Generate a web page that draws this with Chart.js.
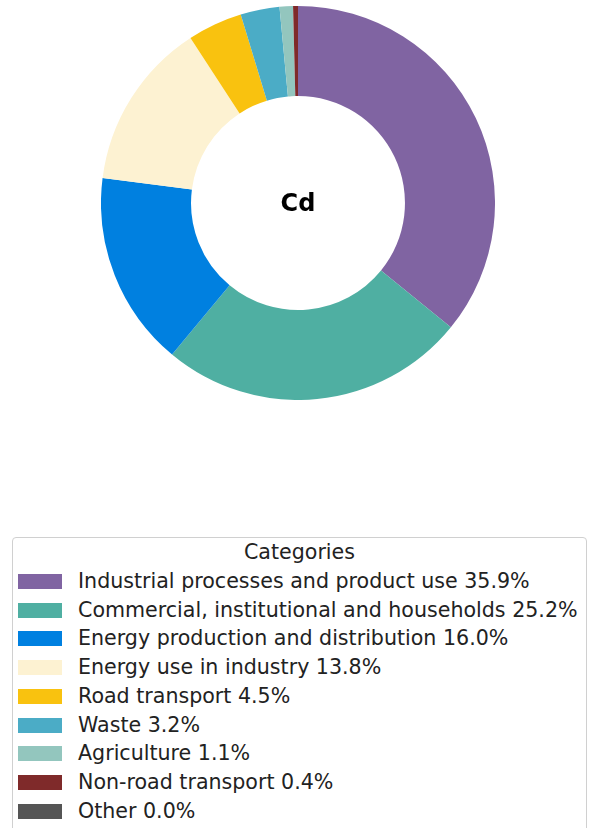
<!DOCTYPE html>
<html>
<head>
<meta charset="utf-8">
<script src="https://cdn.jsdelivr.net/npm/chart.js@4"></script>
<style>
	body { margin: 0; background: #fff; font-family: "DejaVu Sans", sans-serif; }
	#wrap { position: relative; width: 589px; height: 828px; overflow: hidden; }
	#donut { position: absolute; left: 101px; top: 6px; }
	#legende {
		position: absolute; left: 12px; top: 537px; width: 573px; height: 320px;
		border: 1px solid #d0d0d0; border-radius: 4px; color: #222; font-size: 20.6px;
	}
	.zeile { height: 28.75px; line-height: 28.75px; white-space: nowrap; position: relative; }
	.titel { text-align: center; }
	.kasten { position: absolute; left: 5px; top: 7px; width: 44px; height: 15px; }
	.text { position: absolute; left: 65px; top: 0; }
</style>
</head>
<body>
<div id="wrap">
	<canvas id="donut" width="394" height="394"></canvas>
	<div id="legende"></div>
</div>
<script>
// Daten
const categories = [
	"Industrial processes and product use",
	"Commercial, institutional and households",
	"Energy production and distribution",
	"Energy use in industry",
	"Road transport",
	"Waste",
	"Agriculture",
	"Non-road transport",
	"Other"
];
const shares = [35.9, 25.2, 16.0, 13.8, 4.5, 3.2, 1.1, 0.4, 0.0];
const colors = ["#8064a2", "#4fafa2", "#0080e0", "#fdf2d2", "#f9c20f", "#4bacc6", "#93c6be", "#7f2a2a", "#555555"];
const centerLabel = "Cd";
const legendTitle = "Categories";

// Text in der Mitte
const mitteText = {
	id: "mitteText",
	afterDraw(chart) {
		const arc = chart.getDatasetMeta(0).data[0];
		const ctx = chart.ctx;
		ctx.save();
		ctx.font = "bold 24px 'DejaVu Sans'";
		ctx.fillStyle = "#000";
		ctx.textAlign = "center";
		ctx.textBaseline = "middle";
		ctx.fillText(centerLabel, arc.x, arc.y + 2);
		ctx.restore();
	}
};

new Chart(document.getElementById("donut"), {
	type: "doughnut",
	data: {
		labels: categories,
		datasets: [{
			data: shares,
			backgroundColor: colors,
			borderWidth: 0
		}]
	},
	options: {
		responsive: false,
		animation: false,
		devicePixelRatio: 1,
		cutout: "54.3%",
		layout: { padding: 0 },
		plugins: {
			legend: { display: false },
			tooltip: { enabled: false }
		}
	},
	plugins: [mitteText]
});

// Legende
const legende = document.getElementById("legende");
const titel = document.createElement("div");
titel.className = "zeile titel";
titel.textContent = legendTitle;
legende.appendChild(titel);

categories.forEach((name, i) => {
	const zeile = document.createElement("div");
	zeile.className = "zeile";
	const kasten = document.createElement("div");
	kasten.className = "kasten";
	kasten.style.background = colors[i];
	const text = document.createElement("div");
	text.className = "text";
	text.textContent = `${name} ${shares[i].toFixed(1)}%`;
	zeile.appendChild(kasten);
	zeile.appendChild(text);
	legende.appendChild(zeile);
});
</script>
</body>
</html>
